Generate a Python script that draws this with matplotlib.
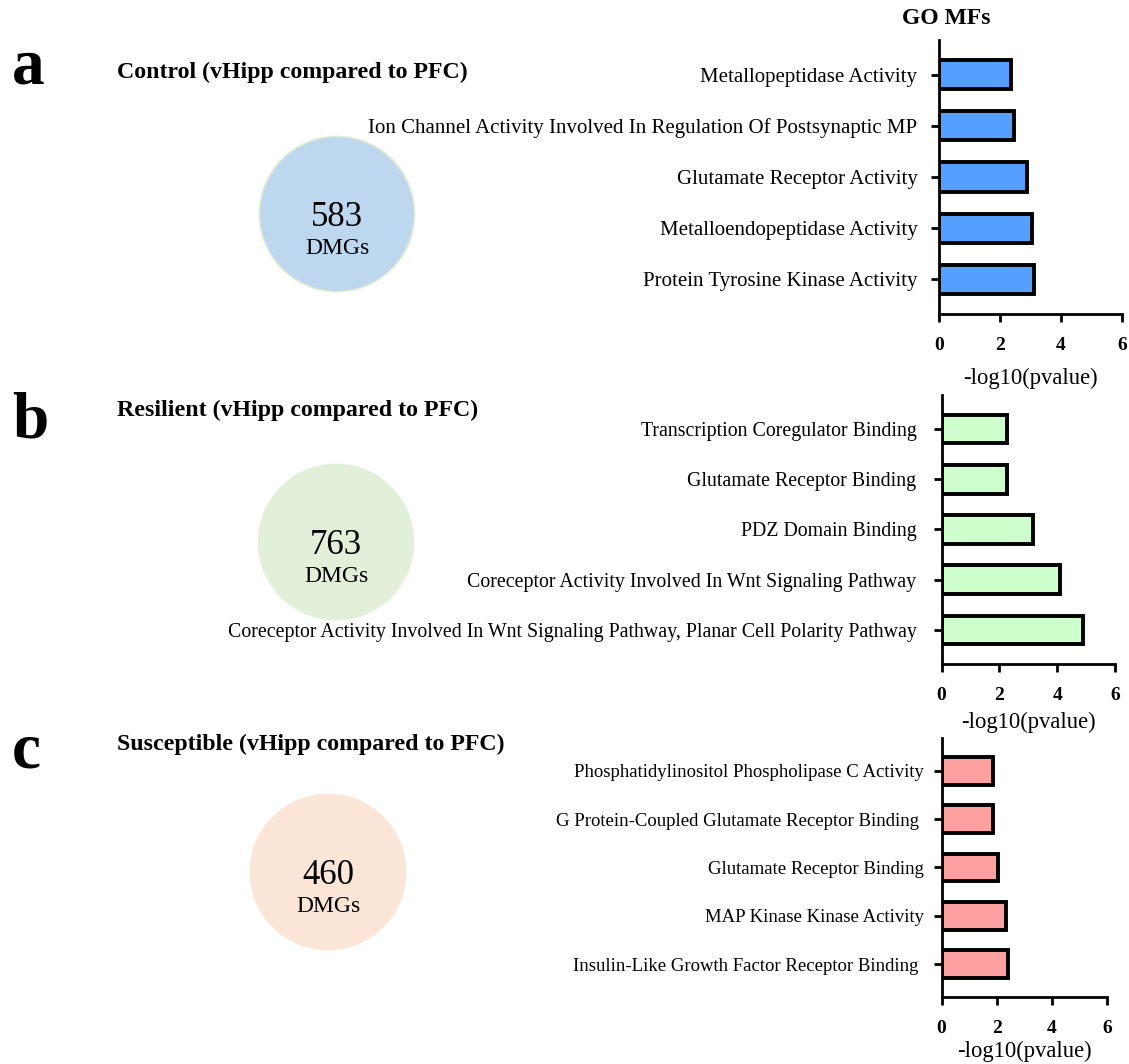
import matplotlib
matplotlib.use("Agg")
import matplotlib.pyplot as plt
from matplotlib.patches import Circle

plt.rcParams['font.family'] = ['Liberation Serif', 'DejaVu Serif']

# ---- data ----
control_terms = [
    "Metallopeptidase Activity",
    "Ion Channel Activity Involved In Regulation Of Postsynaptic MP",
    "Glutamate Receptor Activity",
    "Metalloendopeptidase Activity",
    "Protein Tyrosine Kinase Activity",
]
control_vals = [2.35, 2.45, 2.9, 3.05, 3.1]

resilient_terms = [
    "Transcription Coregulator Binding",
    "Glutamate Receptor Binding",
    "PDZ Domain Binding",
    "Coreceptor Activity Involved In Wnt Signaling Pathway",
    "Coreceptor Activity Involved In Wnt Signaling Pathway, Planar Cell Polarity Pathway",
]
resilient_vals = [2.25, 2.25, 3.15, 4.1, 4.9]

susceptible_terms = [
    "Phosphatidylinositol Phospholipase C Activity",
    "G Protein-Coupled Glutamate Receptor Binding ",
    "Glutamate Receptor Binding",
    "MAP Kinase Kinase Activity",
    "Insulin-Like Growth Factor Receptor Binding ",
]
susceptible_vals = [1.88, 1.88, 2.03, 2.33, 2.42]

dmg_counts = [583, 763, 460]
group_titles = [
    "Control (vHipp compared to PFC)",
    "Resilient (vHipp compared to PFC)",
    "Susceptible (vHipp compared to PFC)",
]
panel_letters = ["a", "b", "c"]
xticks = [0, 2, 4, 6]

bar_colors = ["#559FFF", "#CCFFCC", "#FFA0A0"]
circle_colors = ["#BDD7EE", "#E2F0D9", "#FBE5D6"]
circle_edges = ["#DDEBD0", "#E2F0D9", "#FBE5D6"]

W, H = 1129, 1064
fig = plt.figure(figsize=(W / 100, H / 100), dpi=100)

# bar axes rectangles in figure fractions
bar_rects = [
    [0.8317, 0.7049, 0.1621, 0.2575],
    [0.8340, 0.3759, 0.1536, 0.2529],
    [0.8340, 0.0630, 0.1465, 0.2434],
]
label_sizes = [15.0, 14.3, 13.5]
label_pads = [9.5, 12, 7.0]
xlabel_pads = [10, 6, 3]

all_terms = [control_terms, resilient_terms, susceptible_terms]
all_vals = [control_vals, resilient_vals, susceptible_vals]

for i in range(3):
    ax = fig.add_axes(bar_rects[i])
    pos = list(range(len(all_terms[i])))
    ax.barh(pos, all_vals[i], height=0.57, color=bar_colors[i],
            edgecolor="black", linewidth=2.8)
    ax.set_ylim(len(pos) - 1 + 0.68, -0.68)
    ax.set_xlim(0, 6)
    ax.set_xticks(xticks)
    ax.set_xticklabels([str(t) for t in xticks], fontweight="bold", fontsize=14)
    ax.set_yticks(pos)
    ax.set_yticklabels(all_terms[i], fontsize=label_sizes[i])
    for s in ["top", "right"]:
        ax.spines[s].set_visible(False)
    for s in ["left", "bottom"]:
        ax.spines[s].set_linewidth(2.0)
    ax.tick_params(axis="both", width=2.0, length=6)
    ax.tick_params(axis="x", pad=10.5)
    ax.tick_params(axis="y", pad=label_pads[i])
    ax.set_xlabel("-log10(pvalue)", fontsize=16.3, labelpad=xlabel_pads[i])

# overlay axes in pixel coordinates for circles and headings
ov = fig.add_axes([0, 0, 1, 1], zorder=-1)
ov.set_xlim(0, W)
ov.set_ylim(H, 0)
ov.axis("off")

circle_centers = [(337, 214), (336, 542), (328, 872)]
title_y = [72, 410, 744]
letter_base = [83, 437, 768]
for i in range(3):
    cx, cy = circle_centers[i]
    ov.add_patch(Circle((cx, cy), 77.5, facecolor=circle_colors[i],
                        edgecolor=circle_edges[i], linewidth=1.2))
    ov.text(cx, cy + 4, str(dmg_counts[i]), fontsize=25, ha="center", va="center")
    ov.text(cx, cy + 35, "DMGs", fontsize=17, ha="center", va="center")
    ov.text(117, title_y[i], group_titles[i], fontsize=17.2, fontweight="bold",
            ha="left", va="center")
    ov.text(12, letter_base[i], panel_letters[i], fontsize=47, fontweight="bold",
            ha="left", va="baseline")

ov.text(946, 18, "GO MFs", fontsize=17, fontweight="bold", ha="center", va="center")

fig.savefig("out.png", dpi=100)
